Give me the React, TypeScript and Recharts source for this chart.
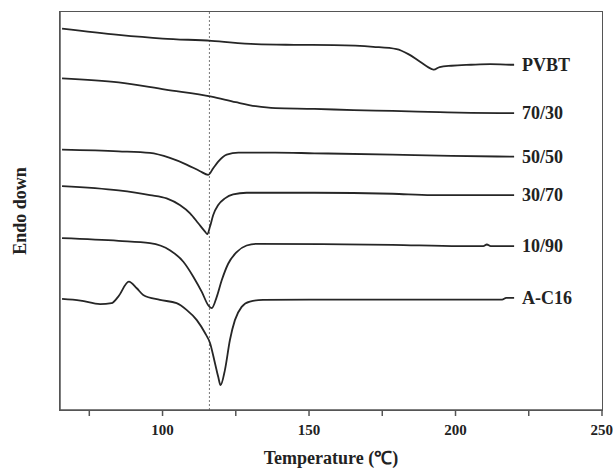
import React from 'react';
import { LineChart, Line, XAxis, YAxis, ReferenceLine } from 'recharts';

// Temperature (°C) and heat-flow (arbitrary units, endo down)
const pvbtT = [65.7, 85, 100, 116.7, 131.8, 145, 158.5, 171.9, 179.9, 183.9, 187.9, 191.9, 192.6, 194.6, 198.6, 205.3, 211.9, 218.6, 220];
const pvbtV = [115.0, 113.1, 112.0, 111.3, 110.3, 110.1, 110.0, 109.5, 108.8, 107.3, 105.0, 102.8, 102.6, 103.4, 103.8, 104.1, 104.3, 104.1, 104.1];

const b7030T = [65.7, 85, 101, 116.7, 125, 131.8, 138.5, 151.8, 165.2, 178.5, 194.6, 205.3, 220];
const b7030V = [100.0, 98.8, 96.6, 94.5, 92.8, 91.6, 91.0, 90.8, 90.4, 90.2, 89.8, 89.6, 89.5];

const b5050T = [65.7, 85, 95.7, 102.5, 108.2, 112.8, 115.6, 117.3, 119.0, 121.9, 125.9, 138.5, 151.8, 178.5, 198.6, 220];
const b5050V = [78.5, 78.0, 77.5, 76.0, 74.0, 72.0, 70.9, 72.9, 74.9, 77.0, 77.6, 77.6, 77.4, 77.0, 76.6, 76.4];

const b3070T = [65.7, 85, 95.7, 101.4, 105.9, 109.4, 112.2, 114.5, 115.3, 116.2, 117.3, 119.0, 121.3, 124.1, 128.7, 151.8, 178.5, 191.9, 220];
const b3070V = [67.5, 66.2, 64.8, 63.8, 61.8, 59.3, 56.3, 53.8, 53.0, 55.3, 58.8, 61.8, 63.8, 65.0, 65.5, 65.5, 65.2, 64.8, 64.8];

const b1090T = [65.7, 85, 95.7, 102.5, 107.1, 110.5, 113.4, 115.6, 116.8, 118.5, 120.2, 122.4, 125.3, 128.7, 132.1, 154.5, 178.5, 201.3, 209.5, 210.7, 212.0, 220];
const b1090V = [51.8, 51.0, 50.3, 48.2, 44.7, 40.2, 35.6, 31.6, 30.7, 34.1, 39.1, 44.1, 47.6, 49.6, 50.1, 50.0, 49.8, 49.4, 49.4, 49.9, 49.4, 49.4];

const ac16T = [65.7, 72, 78.7, 82.6, 84.9, 88.5, 91.2, 93.4, 99.1, 104.8, 108.2, 111.7, 114.5, 116.2, 117.9, 119.0, 119.8, 121.3, 123.0, 124.7, 127.0, 129.8, 134.3, 150, 180, 215.9, 217.3, 220];
const ac16V = [33.5, 33.0, 31.9, 32.2, 34.2, 38.7, 36.7, 34.7, 33.2, 32.2, 30.2, 27.1, 23.2, 20.2, 14.1, 10.0, 7.5, 12.1, 21.1, 27.1, 31.1, 32.7, 33.2, 33.3, 33.3, 33.3, 33.8, 33.8];

const seriesNames = ['PVBT', '70/30', '50/50', '30/70', '10/90', 'A-C16'];
const seriesT = [pvbtT, b7030T, b5050T, b3070T, b1090T, ac16T];
const seriesV = [pvbtV, b7030V, b5050V, b3070V, b1090V, ac16V];

const xTicks = [75, 100, 125, 150, 175, 200, 225, 250];
const xMajor = [100, 150, 200, 250];
const xDomain = [65, 250];
const yDomain = [0, 120];
const meltLine = 116;
const xTitle = 'Temperature (\u2103)';
const yTitle = 'Endo down';

const FONT = '"Liberation Serif", "Times New Roman", serif';
const INK = '#262626';
const AXIS = '#555555';
const CHART_W = 613;
const CHART_H = 470;
const MARGIN = { top: 12, right: 11, bottom: 0, left: 0 };
const Y_AXIS_W = 60;
const X_AXIS_H = 60;

const build = (t: number[], v: number[]) => t.map((x, i) => ({ t: x, v: v[i] }));

const EndLabel = (name: string, len: number) => (props: any) => {
  const { x, y, index } = props;
  if (index !== len - 1) return null;
  return (
    <text x={x + 8} y={y} dy="0.35em" fontFamily={FONT} fontWeight="bold" fontSize={18} fill="#222">
      {name}
    </text>
  );
};

const YTitle = (props: any) => {
  const vb = props.viewBox || { x: 0, y: 12, width: 60, height: 398 };
  const cx = vb.x + 20;
  const cy = vb.y + vb.height / 2;
  return (
    <text
      x={cx}
      y={cy}
      transform={`rotate(-90, ${cx}, ${cy})`}
      textAnchor="middle"
      dominantBaseline="central"
      fontFamily={FONT}
      fontWeight="bold"
      fontSize={18}
      fill="#222"
    >
      {yTitle}
    </text>
  );
};

const XTitle = (props: any) => {
  const vb = props.viewBox || { x: 60, y: 410, width: 542, height: 60 };
  return (
    <text
      x={vb.x + vb.width / 2}
      y={vb.y + vb.height - 6}
      textAnchor="middle"
      fontFamily={FONT}
      fontWeight="bold"
      fontSize={18}
      fill="#222"
    >
      {xTitle}
    </text>
  );
};

export default function App() {
  const plotLeft = MARGIN.left + Y_AXIS_W;
  const plotTop = MARGIN.top;
  const plotW = CHART_W - MARGIN.right - plotLeft;
  const plotH = CHART_H - MARGIN.bottom - X_AXIS_H - plotTop;
  return (
    <div style={{ position: 'absolute', left: 0, top: 0, width: CHART_W, height: CHART_H, background: '#fff' }}>
      <LineChart width={CHART_W} height={CHART_H} margin={MARGIN}>
        <XAxis
          dataKey="t"
          type="number"
          domain={xDomain}
          ticks={xTicks}
          tickFormatter={(v: number) => (xMajor.includes(v) ? String(v) : '')}
          height={X_AXIS_H}
          tickSize={6}
          tickMargin={8}
          stroke={AXIS}
          strokeWidth={1.5}
          tick={{ fontFamily: FONT, fontWeight: 'bold', fontSize: 15, fill: '#222' }}
          label={<XTitle />}
        />
        <YAxis
          type="number"
          domain={yDomain}
          width={Y_AXIS_W}
          tick={false}
          tickLine={false}
          stroke={AXIS}
          strokeWidth={1.5}
          label={<YTitle />}
        />
        <ReferenceLine x={meltLine} stroke="#777" strokeWidth={1} strokeDasharray="2 2" />
        {seriesNames.map((name, i) => (
          <Line
            key={name}
            data={build(seriesT[i], seriesV[i])}
            dataKey="v"
            type="monotone"
            stroke={INK}
            strokeWidth={1.8}
            dot={false}
            isAnimationActive={false}
            label={EndLabel(name, seriesT[i].length)}
          />
        ))}
      </LineChart>
      <div
        style={{
          position: 'absolute',
          left: plotLeft - 0.75,
          top: plotTop - 0.75,
          width: plotW + 1.5,
          height: plotH + 1.5,
          boxSizing: 'border-box',
          border: `1.5px solid ${AXIS}`,
          pointerEvents: 'none',
        }}
      />
    </div>
  );
}
